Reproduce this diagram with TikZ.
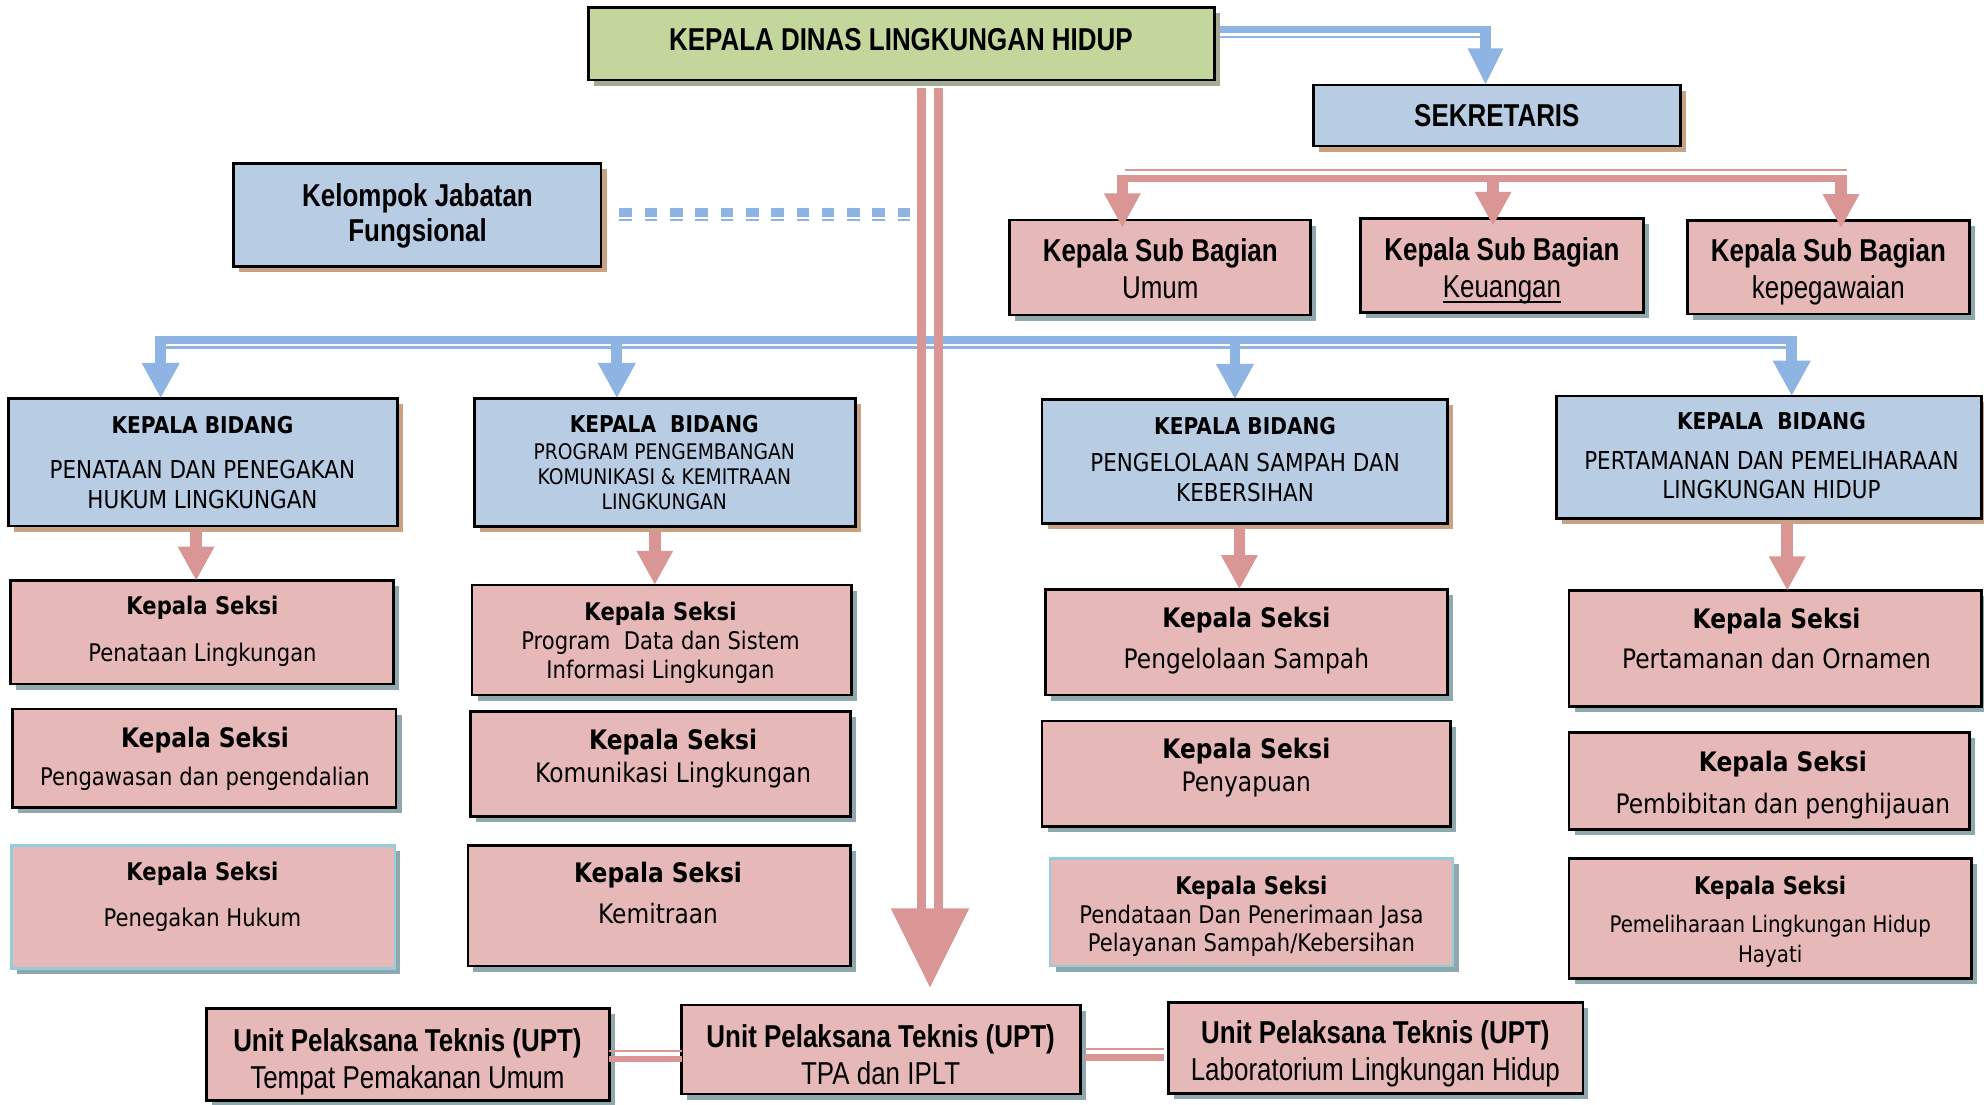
\documentclass[tikz,border=0pt]{standalone}
\usepackage{fontspec}
\setmainfont{Liberation Sans}
\newfontfamily\nar[FakeStretch=0.82]{Liberation Sans}
\newfontfamily\tah[FakeStretch=0.87]{DejaVu Sans}
\usetikzlibrary{arrows.meta,shadows,calc}
\definecolor{kdgreen}{HTML}{C3D69B}
\definecolor{bxblue}{HTML}{B8CCE4}
\definecolor{bxpink}{HTML}{E6B9B8}
\definecolor{lnblue}{HTML}{8DB4E2}
\definecolor{lnpink}{HTML}{D99694}
\definecolor{shbrown}{HTML}{C9A283}
\definecolor{shteal}{HTML}{8FA8AD}
\definecolor{shgreen}{HTML}{A5AA93}
\definecolor{bdcyan}{HTML}{92CDDC}
\newcommand\fN{\nar\bfseries\fontsize{12.5}{15}\selectfont}
\newcommand\fNr{\nar\fontsize{12.5}{15}\selectfont}
\newcommand\fT[1]{\tah\fontsize{#1}{#1}\selectfont}
\newcommand\thickul[1]{{\setbox0\hbox{#1}\rlap{\rule[-2.2pt]{\wd0}{0.9pt}}\box0}}
\newcommand\obox[6]{\node[#6, minimum width={(#4-#2)*0.5pt}, minimum height={(#5-#3)*0.5pt}] (#1) at ({(#2+#4)/2},{(#3+#5)/2}) {};}
\newcommand\tx[5]{\node[anchor=base, inner sep=0pt, font=#4] (#1) at (#2,#3) {#5};}
\begin{document}
\begin{tikzpicture}[x=0.5pt,y=-0.5pt,
  bx/.style={draw=black, line width=1.1pt, inner sep=0pt, outer sep=0pt},
  shb/.style={drop shadow={fill=shbrown,opacity=1,shadow xshift=2.2pt,shadow yshift=-2.2pt}},
  sht/.style={drop shadow={fill=shteal,opacity=1,shadow xshift=2.2pt,shadow yshift=-2.2pt}},
  shg/.style={drop shadow={fill=shgreen,opacity=1,shadow xshift=2.2pt,shadow yshift=-2.2pt}},
  greenbox/.style={bx, fill=kdgreen, shg},
  bluebox/.style={bx, fill=bxblue, shb},
  pinkbox/.style={bx, fill=bxpink, sht},
  cyanbox/.style={bx, draw=bdcyan, line width=1pt, fill=bxpink, sht},
  bthick/.style={draw=lnblue, line width=2.9pt},
  bthin/.style={draw=lnblue, line width=0.9pt},
  bstem/.style={draw=lnblue, line width=4.3pt, -{Triangle[width=14pt,length=14pt]}},
  pthick/.style={draw=lnpink, line width=2.9pt},
  pthin/.style={draw=lnpink, line width=0.9pt},
  pstem/.style={draw=lnpink, line width=4.6pt, -{Triangle[width=13.5pt,length=13.5pt]}},
  cstem/.style={draw=lnpink, line width=3.45pt},
  dashthick/.style={draw=lnblue, line width=3.3pt, dash pattern=on 5pt off 5pt},
  dashthin/.style={draw=lnblue, line width=1pt, dash pattern=on 5pt off 5pt}
]
\fill[white] (0,0) rectangle (1568,873);
\useasboundingbox (0,0) rectangle (1568,873);

% ---------- boxes ----------
\obox{kd}{465.2}{5.8}{959.7}{63.2}{greenbox}
\obox{sek}{1038}{67.2}{1328}{115.4}{bluebox}
\obox{kjf}{184.6}{129}{475}{210.8}{bluebox}
\obox{sbu}{797.7}{173.9}{1035.8}{249}{pinkbox}
\obox{sbk}{1075.5}{172.6}{1298.7}{247.1}{pinkbox}
\obox{sbp}{1333.4}{174.4}{1556.6}{248.2}{pinkbox}

\obox{b1}{6.8}{314.8}{314}{415.7}{bluebox}
\obox{b2}{374.8}{314.8}{676}{416.2}{bluebox}
\obox{b3}{823.5}{315.6}{1144}{413.6}{bluebox}
\obox{b4}{1230}{313}{1566}{409.6}{bluebox}

\obox{s11}{8.2}{459}{310.8}{540.6}{pinkbox}
\obox{s12}{10}{560.4}{313}{638}{pinkbox}
\obox{s13}{9}{668}{312}{765.3}{cyanbox}
\obox{s21}{373}{462.3}{672.8}{549.3}{pinkbox}
\obox{s22}{372}{562.5}{672}{645.5}{pinkbox}
\obox{s23}{369.8}{668}{672}{763.5}{pinkbox}
\obox{s31}{826}{465.8}{1144}{549.3}{pinkbox}
\obox{s32}{823.5}{569.8}{1146.5}{653.4}{pinkbox}
\obox{s33}{830}{678.4}{1148.4}{763.5}{cyanbox}
\obox{s41}{1240}{466.8}{1566}{558.5}{pinkbox}
\obox{s42}{1240}{579}{1556.6}{655.4}{pinkbox}
\obox{s43}{1240}{678.4}{1558}{773.2}{pinkbox}

\obox{u1}{163}{797}{481.6}{870}{pinkbox}
\obox{u2}{538.8}{794.3}{853.9}{864.6}{pinkbox}
\obox{u3}{923.4}{792.5}{1251}{864}{pinkbox}

% ---------- texts ----------
\tx{kdt}{712}{40}{\fN}{KEPALA DINAS LINGKUNGAN HIDUP}
\tx{sekt}{1183}{100}{\fN}{SEKRETARIS}
\tx{kjft1}{330}{163}{\fN}{Kelompok Jabatan}
\tx{kjft2}{330}{191}{\fN}{Fungsional}
\tx{sbut1}{917}{207}{\fN}{Kepala Sub Bagian}
\tx{sbut2}{917}{236}{\fNr}{Umum}
\tx{sbkt1}{1187}{206}{\fN}{Kepala Sub Bagian}
\tx{sbkt2}{1187}{235}{\fNr}{\thickul{Keuangan}}
\tx{sbpt1}{1445}{207}{\fN}{Kepala Sub Bagian}
\tx{sbpt2}{1445}{236}{\fNr}{kepegawaian}

\tx{b1t1}{160}{342.7}{\fT{9.15}\bfseries}{KEPALA BIDANG}
\tx{b1t2}{160}{378}{\fT{9.75}}{PENATAAN DAN PENEGAKAN}
\tx{b1t3}{160}{402}{\fT{9.75}}{HUKUM LINGKUNGAN}
\tx{b2t1}{525}{341.7}{\fT{9.15}\bfseries}{KEPALA\ \ BIDANG}
\tx{b2t2}{525}{363}{\fT{8.5}}{PROGRAM PENGEMBANGAN}
\tx{b2t3}{525}{383}{\fT{8.5}}{KOMUNIKASI \& KEMITRAAN}
\tx{b2t4}{525}{403}{\fT{8.5}}{LINGKUNGAN}
\tx{b3t1}{984}{343.7}{\fT{9.15}\bfseries}{KEPALA BIDANG}
\tx{b3t2}{984}{373}{\fT{9.75}}{PENGELOLAAN SAMPAH DAN}
\tx{b3t3}{984}{396}{\fT{9.75}}{KEBERSIHAN}
\tx{b4t1}{1400}{339.7}{\fT{9.15}\bfseries}{KEPALA\ \ BIDANG}
\tx{b4t2}{1400}{371}{\fT{9.75}}{PERTAMANAN DAN PEMELIHARAAN}
\tx{b4t3}{1400}{394}{\fT{9.75}}{LINGKUNGAN HIDUP}

\tx{s11t1}{160}{486}{\fT{9.6}\bfseries}{Kepala Seksi}
\tx{s11t2}{160}{523}{\fT{9.6}}{Penataan Lingkungan}
\tx{s12t1}{162}{590.7}{\fT{10.6}\bfseries}{Kepala Seksi}
\tx{s12t2}{162}{621}{\fT{9.6}}{Pengawasan dan pengendalian}
\tx{s13t1}{160}{696}{\fT{9.6}\bfseries}{Kepala Seksi}
\tx{s13t2}{160}{732}{\fT{9.6}}{Penegakan Hukum}
\tx{s21t1}{522}{490}{\fT{9.6}\bfseries}{Kepala Seksi}
\tx{s21t2}{522}{513}{\fT{9.6}}{Program\ \ Data dan Sistem}
\tx{s21t3}{522}{536}{\fT{9.6}}{Informasi Lingkungan}
\tx{s22t1}{532}{592.7}{\fT{10.6}\bfseries}{Kepala Seksi}
\tx{s22t2}{532}{618.7}{\fT{10.6}}{Komunikasi Lingkungan}
\tx{s23t1}{520}{697.7}{\fT{10.6}\bfseries}{Kepala Seksi}
\tx{s23t2}{520}{729.7}{\fT{10.6}}{Kemitraan}
\tx{s31t1}{985}{495.7}{\fT{10.6}\bfseries}{Kepala Seksi}
\tx{s31t2}{985}{528.7}{\fT{10.6}}{Pengelolaan Sampah}
\tx{s32t1}{985}{599.7}{\fT{10.6}\bfseries}{Kepala Seksi}
\tx{s32t2}{985}{625.7}{\fT{10.6}}{Penyapuan}
\tx{s33t1}{989}{707}{\fT{9.6}\bfseries}{Kepala Seksi}
\tx{s33t2}{989}{730}{\fT{9.6}}{Pendataan Dan Penerimaan Jasa}
\tx{s33t3}{989}{752}{\fT{9.6}}{Pelayanan Sampah/Kebersihan}
\tx{s41t1}{1404}{496.7}{\fT{10.6}\bfseries}{Kepala Seksi}
\tx{s41t2}{1404}{528.7}{\fT{10.6}}{Pertamanan dan Ornamen}
\tx{s42t1}{1409}{609.7}{\fT{10.6}\bfseries}{Kepala Seksi}
\tx{s42t2}{1409}{642.7}{\fT{10.6}}{Pembibitan dan penghijauan}
\tx{s43t1}{1399}{707}{\fT{9.6}\bfseries}{Kepala Seksi}
\tx{s43t2}{1399}{736.6}{\fT{9}}{Pemeliharaan Lingkungan Hidup}
\tx{s43t3}{1399}{760.6}{\fT{9}}{Hayati}

\tx{u1t1}{322}{831}{\fN}{Unit Pelaksana Teknis (UPT)}
\tx{u1t2}{322}{860}{\fNr}{Tempat Pemakanan Umum}
\tx{u2t1}{696}{828}{\fN}{Unit Pelaksana Teknis (UPT)}
\tx{u2t2}{696}{857}{\fNr}{TPA dan IPLT}
\tx{u3t1}{1087}{825}{\fN}{Unit Pelaksana Teknis (UPT)}
\tx{u3t2}{1087}{854}{\fNr}{Laboratorium Lingkungan Hidup}

% ---------- connectors ----------
% kepala dinas -> sekretaris
\coordinate (kdR) at ([xshift=2.2pt]kd.east);
\coordinate (sj) at (1174,23.2);
\draw[bthick] (kdR |- sj) -- ([xshift=2.1pt]sj);
\draw[bthin] ($(kdR |- sj)+(0,6)$) -- ($(sj)+(-4,6)$);
\draw[bstem, -{Triangle[width=13pt,length=14.5pt]}] ($(sj)+(0,-2.6)$) -- (sj |- sek.north);

% sekretaris bus -> sub bagian
\coordinate (pj1) at (887,141.2);
\coordinate (pj2) at (1180,141.2);
\coordinate (pj3) at (1455,141.2);
\draw[pthick] ([xshift=-2.3pt]pj1) -- ([xshift=2.3pt]pj3);
\draw[pthin] ($(pj1)+(2,-6.6)$) -- ($(pj3)+(5,-6.6)$);
\foreach \j/\b in {pj1/sbu,pj2/sbk,pj3/sbp}
  \draw[pstem] ($(\j)+(0,-2.9)$) -- ($(\j |- \b.north)+(0,6)$);

% kelompok jabatan fungsional (dashed)
\coordinate (kjfR) at ([xshift=7.25pt]kjf.east);
\coordinate (dend) at (719.5,167.9);
\draw[dashthick] (kjfR |- dend) -- (dend);
\draw[dashthin] ($(kjfR |- dend)+(0,6)$) -- ($(dend)+(0,6)$);

% kepala dinas -> bidang bus
\coordinate (bj1) at (127,268.7);
\coordinate (bj2) at (487.5,268.7);
\coordinate (bj3) at (976,268.7);
\coordinate (bj4) at (1416,268.7);
\draw[bthick] ([xshift=-2.15pt]bj1) -- ([xshift=2.15pt]bj4);
\draw[bthin] ($(bj1)+(4,6)$) -- ($(bj4)+(-4,6)$);
\foreach \j/\b in {bj1/b1,bj2/b2,bj3/b3,bj4/b4}
  \draw[bstem] ($(\j)+(0,-2.9)$) -- (\j |- \b.north);

% central arrow kepala dinas -> UPT
\coordinate (cL) at (728.2,0);
\coordinate (cR) at (741.9,0);
\coordinate (ctip) at ($(735,0 |- u2.north)+(0,-14)$);
\coordinate (chb) at ($(ctip)+(0,-62.4)$);
\draw[cstem] ($(cL |- kd.south)+(0,6.3)$) -- ($(cL |- chb)+(0,1)$);
\draw[cstem] ($(cR |- kd.south)+(0,6.3)$) -- ($(cR |- chb)+(0,1)$);
\fill[lnpink] ($(chb)+(-31,0)$) -- ($(chb)+(31,0)$) -- (ctip) -- cycle;

% bidang -> seksi
\draw[pstem] ($(155,0 |- b1.south)+(0,2)$) -- (155,0 |- s11.north);
\draw[pstem] ($(517.5,0 |- b2.south)+(0,4)$) -- (517.5,0 |- s21.north);
\draw[pstem] ($(979.5,0 |- b3.south)+(0,3)$) -- (979.5,0 |- s31.north);
\draw[pstem] ($(1412.5,0 |- b4.south)+(0,4)$) -- (1412.5,0 |- s41.north);

% UPT links
\draw[pthin] (u1.east |- 0,830.8) -- (u2.west |- 0,830.8);
\draw[pthick, line width=2.5pt] (u1.east |- 0,837.1) -- (u2.west |- 0,837.1);
\draw[pthin] ($(u2.east |- 0,829.3)+(3.6,0)$) -- ($(u3.west |- 0,829.3)+(-3.7,0)$);
\draw[pthick, line width=2.6pt] ($(u2.east |- 0,835.8)+(3.6,0)$) -- ($(u3.west |- 0,835.8)+(-3.7,0)$);
\end{tikzpicture}
\end{document}
